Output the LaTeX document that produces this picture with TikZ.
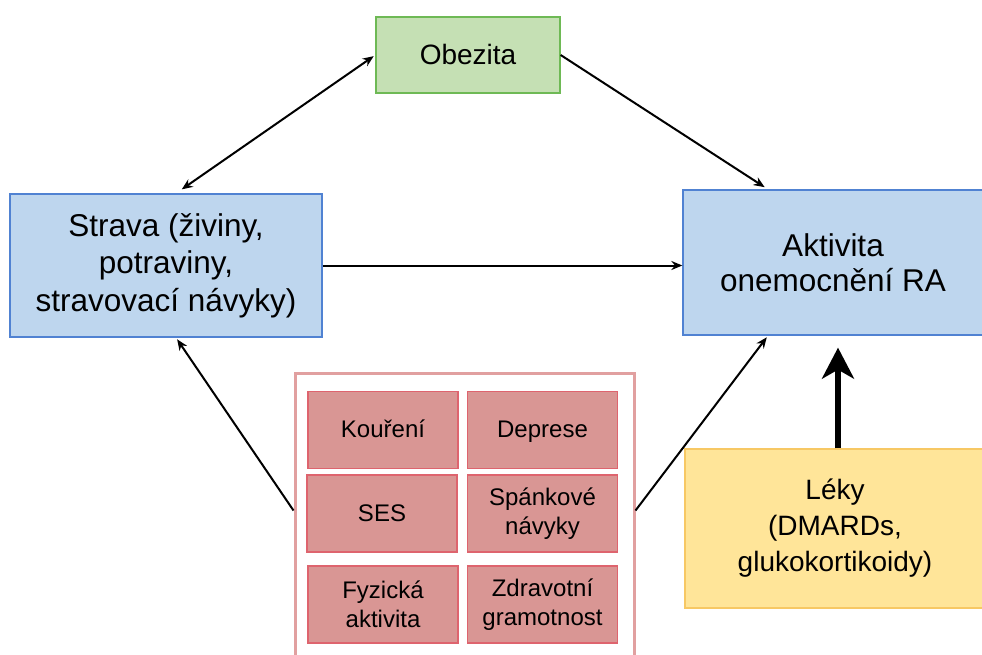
\documentclass[tikz,border=0pt]{standalone}
\usepackage{fontspec}
\setmainfont{Liberation Sans}
\usetikzlibrary{arrows.meta}

\definecolor{modra}{RGB}{190,214,238}
\definecolor{modrahrana}{RGB}{80,130,210}
\definecolor{zelena}{RGB}{197,224,180}
\definecolor{zelenahrana}{RGB}{110,185,85}
\definecolor{cervena}{RGB}{217,150,148}
\definecolor{cervenahrana}{RGB}{222,100,110}
\definecolor{ramecek}{RGB}{225,160,160}
\definecolor{zluta}{RGB}{255,229,153}
\definecolor{zlutahrana}{RGB}{247,200,100}

\newcommand{\vyrovnej}{\vphantom{Ág}}

\begin{document}
\begin{tikzpicture}[x=1pt,y=-1pt,
    box/.style={draw, line width=1.3pt, inner sep=0pt, align=center},
    faktor/.style={box, fill=cervena, draw=cervenahrana, minimum width=150pt,
      minimum height=77pt, font=\fontsize{24}{29}\selectfont},
    hrot/.tip={Stealth[length=11pt,width=9pt]},
    sipka/.style={-hrot, line width=2pt}]

        \useasboundingbox (0,0) rectangle (982,654);

        \node[box, fill=zelena, draw=zelenahrana, minimum width=184pt, minimum height=76pt,
          font=\fontsize{28}{34}\selectfont] (obezita) at (468,55) {\vyrovnej Obezita};
        \node[box, fill=modra, draw=modrahrana, minimum width=312pt, minimum height=143pt,
          font=\fontsize{31.5}{37.5}\selectfont]
          (strava) at (166,265.5) {Strava (živiny,\\potraviny,\\stravovací návyky)};
        \node[box, fill=modra, draw=modrahrana, minimum width=300pt, minimum height=145pt,
          font=\fontsize{31.5}{35}\selectfont]
          (aktivita) at (833,262.5) {Aktivita\\onemocnění RA};
        \node[box, fill=zluta, draw=zlutahrana, minimum width=300pt, minimum height=159pt,
          font=\fontsize{28}{36}\selectfont] (leky) at (835,528.5) {Léky\\(DMARDs,\\glukokortikoidy)};

        % rizikove faktory
        \node[box, draw=ramecek, line width=3pt, fill=white, minimum width=339pt,
          minimum height=287pt] (faktory) at (464.5,516.5) {};

        \begin{scope}[every node/.style={faktor}]
          \node (koureni)  at (383,430)   {\vyrovnej Kouření};
          \node (deprese)  at (542.5,430) {\vyrovnej Deprese};
          \node (ses)      at (382,513.5) {\vyrovnej SES};
          \node (spanek)   at (542.5,513.5) {Spánkové\\návyky};
          \node (pohyb)    at (383,604.5) {Fyzická\\aktivita};
          \node (gramot)   at (542.5,604.5) {Zdravotní\\gramotnost};
        \end{scope}

        \begin{scope}[every path/.style={sipka}]
          \path (obezita.west) edge[hrot-hrot, shorten <=2pt, shorten >=7pt]
            ([xshift=10pt]strava.north);
          \path (obezita.east) edge[shorten >=4pt] ([xshift=-65pt]aktivita.north);
          \path (strava.east) edge (strava.east -| aktivita.west);
          \path ([yshift=6pt]faktory.west) edge[shorten >=2pt] ([xshift=10pt]strava.south);
          \path ([yshift=6pt]faktory.east) edge[shorten >=2pt] ([xshift=-65pt]aktivita.south);
        \end{scope}

        \draw[-{Stealth[length=31pt,width=32pt,inset=9pt]}, line width=6pt, shorten >=12pt]
          ([xshift=3pt]leky.north) -- ([xshift=5pt]aktivita.south);

      \end{tikzpicture}
\end{document}
